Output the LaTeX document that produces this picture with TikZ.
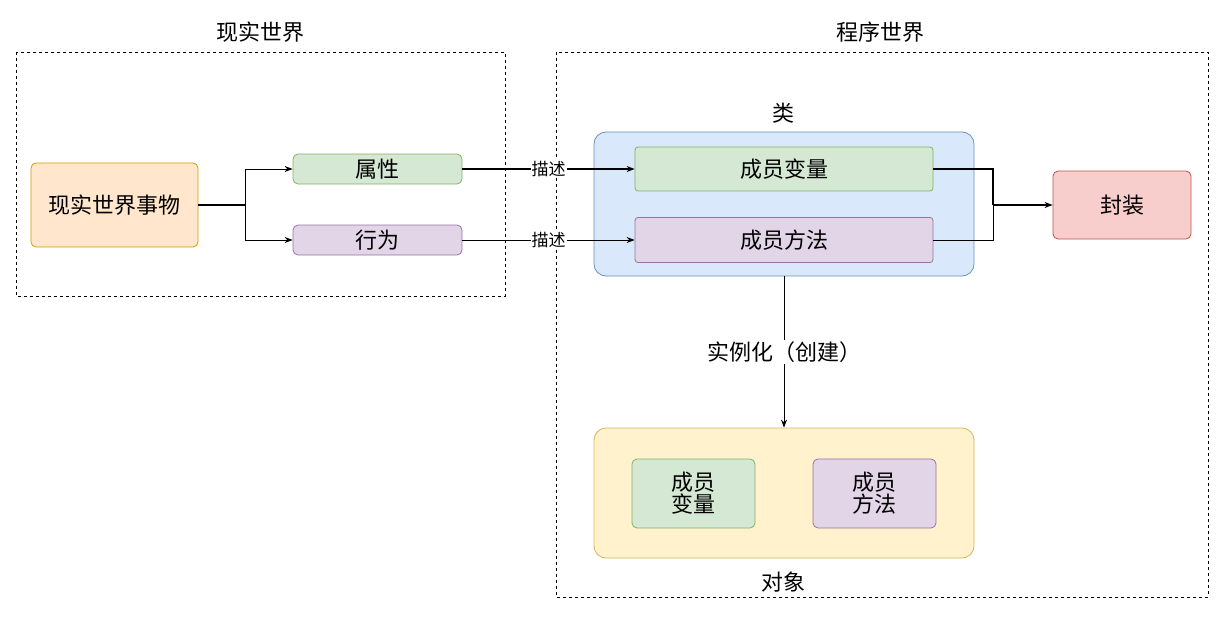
\documentclass[tikz,border=0pt]{standalone}
\usepackage{fontspec}
\setmainfont{Noto Sans CJK SC}
\usetikzlibrary{arrows.meta}
\definecolor{gf}{HTML}{D5E8D4}\definecolor{gs}{HTML}{82B366}
\definecolor{pf}{HTML}{E1D5E7}\definecolor{ps}{HTML}{9673A6}
\definecolor{of}{HTML}{FFE6CC}\definecolor{os}{HTML}{D79B00}
\definecolor{bf}{HTML}{DAE8FC}\definecolor{bs}{HTML}{6C8EBF}
\definecolor{yf}{HTML}{FFF2CC}\definecolor{ys}{HTML}{D6B656}
\definecolor{rf}{HTML}{F8CECC}\definecolor{rs}{HTML}{B85450}
\begin{document}
\begin{tikzpicture}[x=1pt,y=-1pt,
 box/.style={draw,rounded corners=5pt,line width=0.8pt},
 t/.style={font=\fontsize{22}{26}\selectfont},
 lab/.style={font=\fontsize{17}{20}\selectfont,fill=white,inner sep=1pt},
 dbox/.style={draw,dashed,line width=0.9pt},
 arr/.style={-{Stealth[length=8pt,width=6pt]},line width=0.8pt}]
\useasboundingbox (0,0) rectangle (1222,623);
\draw[dbox] (16,52) rectangle (505,296);
\draw[dbox] (556,52) rectangle (1208,597);
\node[t] (tl) at (260,32) {现实世界};
\node[t] (tr) at (880,32) {程序世界};
\node[box,fill=of,draw=os,t,minimum width=167pt,minimum height=84pt] (thing) at (114.5,205) {现实世界事物};
\node[box,fill=gf,draw=gs,t,minimum width=169pt,minimum height=30pt,inner sep=0pt] (attr) at (377.5,169) {属性};
\node[box,fill=pf,draw=ps,t,minimum width=169pt,minimum height=30pt,inner sep=0pt] (beh) at (377.5,240) {行为};
\node[box,fill=bf,draw=bs,rounded corners=12pt,minimum width=380pt,minimum height=144pt] (cls) at (784,204) {};
\node[t] (clsl) at (783,113) {类};
\node[box,fill=gf,draw=gs,t,rounded corners=3pt,minimum width=298pt,minimum height=44pt] (mv) at (784,169) {成员变量};
\node[box,fill=pf,draw=ps,t,rounded corners=3pt,minimum width=298pt,minimum height=45pt] (mm) at (784,240) {成员方法};
\node[box,fill=rf,draw=rs,t,minimum width=138pt,minimum height=68pt] (enc) at (1122,205) {封装};
\node[box,fill=yf,draw=ys,rounded corners=12pt,minimum width=380pt,minimum height=130pt] (obj) at (784,493) {};
\node[t] (objl) at (783,582) {对象};
\node[box,fill=gf,draw=gs,t,minimum width=123pt,minimum height=69pt,align=center,inner sep=0pt] (ov) at (693.5,493.5) {成员\\[-4pt]变量};
\node[box,fill=pf,draw=ps,t,minimum width=123pt,minimum height=69pt,align=center,inner sep=0pt] (om) at (874.5,493.5) {成员\\[-4pt]方法};
\coordinate (j1) at (245,205);
\draw[line width=1.6pt] (thing.east) -- (j1);
\draw[arr] (j1) |- (attr.west);
\draw[arr] (j1) |- (beh.west);
\draw[arr,line width=1.2pt] (attr.east) -- node[lab,pos=0.5]{描述} (mv.west);
\draw[arr] (beh.east) -- node[lab,pos=0.5]{描述} (mm.west);
\coordinate (j2) at (993,205);
\draw[line width=1.2pt] (mv.east) -| (j2);
\draw (mm.east) -| (j2);
\draw[arr,line width=1.6pt] (j2) -- (enc.west);
\draw[arr] (cls.south) -- node[t,fill=white,inner sep=2pt,pos=0.5]{实例化（创建）} (obj.north);
\end{tikzpicture}
\end{document}
